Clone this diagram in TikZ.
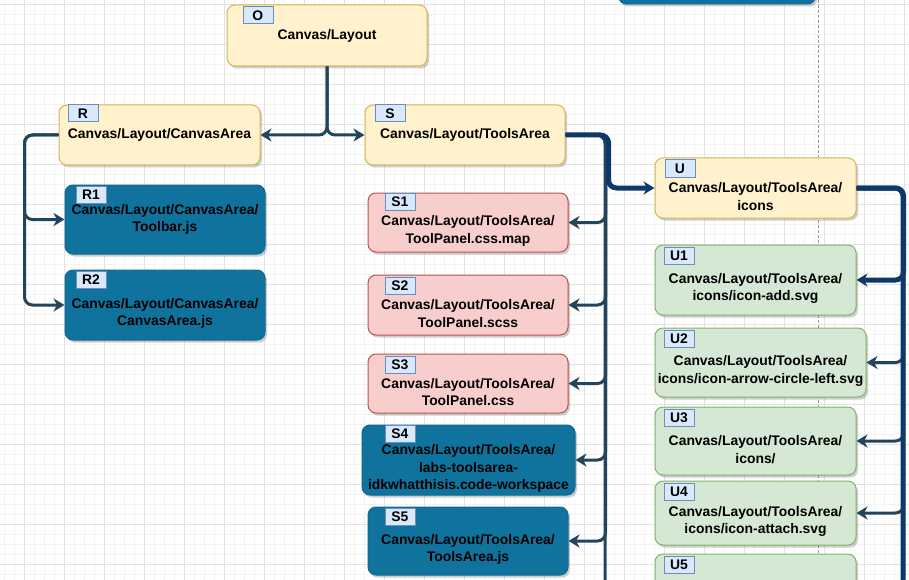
\documentclass[tikz,border=0pt]{standalone}
\usepackage{fontspec}
\setmainfont{Liberation Sans}
\usetikzlibrary{arrows.meta,shadows}

\definecolor{folderfill}{HTML}{FFF2CC}
\definecolor{folderline}{HTML}{D6B656}
\definecolor{filefill}{HTML}{F8CECC}
\definecolor{fileline}{HTML}{B85450}
\definecolor{iconfill}{HTML}{D5E8D4}
\definecolor{iconline}{HTML}{82B366}
\definecolor{codefill}{HTML}{10739E}
\definecolor{codeline}{HTML}{0E6A92}
\definecolor{tagfill}{HTML}{DAE8FC}
\definecolor{tagline}{HTML}{6C8EBF}
\definecolor{linkc}{HTML}{23445D}
\definecolor{trunkc}{HTML}{0F3868}
\definecolor{minorc}{HTML}{F3F3F3}
\definecolor{majorc}{HTML}{E2E2E2}

\begin{document}
\begin{tikzpicture}[
        x=1pt, y=-1pt,
        every node/.style={font=\bfseries\fontsize{13.9}{17.5}\selectfont, text=black},
        box/.style={draw, line width=1pt, rounded corners=8pt, align=center, inner sep=0pt,
            drop shadow={shadow xshift=2pt, shadow yshift=-2.5pt, opacity=.35, fill=black!55}},
        folder/.style={box, fill=folderfill, draw=folderline},
        file/.style={box, fill=filefill, draw=fileline},
        icon/.style={box, fill=iconfill, draw=iconline},
        code/.style={box, fill=codefill, draw=codeline},
        caption/.style={label={[align=center, yshift=-8.5pt]center:#1}},
        tag/.style={draw=tagline, fill=tagfill, line width=0.8pt, anchor=north west,
            minimum width=30pt, minimum height=17pt, inner sep=0pt},
        link/.style={draw=linkc, line width=3pt, rounded corners=8pt,
            -{Stealth[length=11pt, width=13pt, inset=3.5pt]}},
        trunk/.style={link, draw=trunkc, line width=5pt},
        minorgrid/.style={draw=minorc, line width=0.5pt},
        majorgrid/.style={draw=majorc, line width=0.8pt},
        guide/.style={draw=black!40, line width=0.7pt, dash pattern=on 3pt off 2pt},
    ]
    \useasboundingbox (0,0) rectangle (909,580);
    \clip (0,0) rectangle (909,580);
    \fill[white] (0,0) rectangle (909,580);

    % background grid
    \foreach \gx in {4,14,...,904} \draw[minorgrid] (\gx,0) -- (\gx,580);
    \foreach \gy in {4,14,...,574} \draw[minorgrid] (0,\gy) -- (909,\gy);
    \foreach \gx in {24,64,...,904} \draw[majorgrid] (\gx,0) -- (\gx,580);
    \foreach \gy in {4,44,...,564} \draw[majorgrid] (0,\gy) -- (909,\gy);
    \draw[guide] (818,0) -- (818,580);

    % root
    \node[code, minimum width=197, minimum height=40] (prev) at (717,-16) {};
    \node[folder, minimum width=200, minimum height=61] (O) at (327,35.5) {Canvas/Layout};
    \node[tag] (O-tag) at ([xshift=16pt, yshift=-2pt]O.north west) {O};

    % canvas area
    \node[folder, minimum width=201, minimum height=60] (R) at (159.5,135) {Canvas/Layout/CanvasArea};
    \node[tag] (R-tag) at ([xshift=9pt]R.north west) {R};
    \node[code, minimum width=200, minimum height=69] (R1) at (165,219.5) {Canvas/Layout/CanvasArea/\\Toolbar.js};
    \node[tag] (R1-tag) at ([xshift=11pt, yshift=-1pt]R1.north west) {R1};
    \node[code, minimum width=200, minimum height=70, caption={Canvas/Layout/CanvasArea/\\CanvasArea.js}] (R2) at (165,305) {};
    \node[tag] (R2-tag) at ([xshift=11pt, yshift=-1pt]R2.north west) {R2};

    % tools area
    \node[folder, minimum width=200, minimum height=60] (S) at (465,135) {Canvas/Layout/ToolsArea};
    \node[tag] (S-tag) at ([xshift=10pt]S.north west) {S};
    \node[file, minimum width=200, minimum height=59, caption={Canvas/Layout/ToolsArea/\\ToolPanel.css.map}] (S1) at (468,222.5) {};
    \node[tag] (S1-tag) at ([xshift=17pt]S1.north west) {S1};
    \node[file, minimum width=200, minimum height=60, caption={Canvas/Layout/ToolsArea/\\ToolPanel.scss}] (S2) at (468,305) {};
    \node[tag] (S2-tag) at ([xshift=17pt, yshift=-2pt]S2.north west) {S2};
    \node[file, minimum width=200, minimum height=59, caption={Canvas/Layout/ToolsArea/\\ToolPanel.css}] (S3) at (468,383.5) {};
    \node[tag] (S3-tag) at ([xshift=17pt, yshift=-2pt]S3.north west) {S3};
    \node[code, minimum width=213, minimum height=70, caption={Canvas/Layout/ToolsArea/\\labs-toolsarea-\\idkwhatthisis.code-workspace}] (S4) at (468.5,460) {};
    \node[tag] (S4-tag) at ([xshift=23pt]S4.north west) {S4};
    \node[code, minimum width=200, minimum height=68, caption={Canvas/Layout/ToolsArea/\\ToolsArea.js}] (S5) at (468,541) {};
    \node[tag] (S5-tag) at ([xshift=17pt, yshift=-1pt]S5.north west) {S5};

    % icons
    \node[folder, minimum width=201, minimum height=60, caption={Canvas/Layout/ToolsArea/\\icons}] (U) at (755.5,188) {};
    \node[tag] (U-tag) at ([xshift=10pt, yshift=-2pt]U.north west) {U};
    \node[icon, minimum width=201, minimum height=70, caption={Canvas/Layout/ToolsArea/\\icons/icon-add.svg}] (U1) at (755.5,280) {};
    \node[tag] (U1-tag) at ([xshift=9pt, yshift=-2pt]U1.north west) {U1};
    \node[icon, minimum width=211, minimum height=69, caption={Canvas/Layout/ToolsArea/\\icons/icon-arrow-circle-left.svg}] (U2) at (760.5,362.5) {};
    \node[tag] (U2-tag) at ([xshift=9pt, yshift=-2pt]U2.north west) {U2};
    \node[icon, minimum width=201, minimum height=68, caption={Canvas/Layout/ToolsArea/\\icons/}] (U3) at (755.5,441) {};
    \node[tag] (U3-tag) at ([xshift=9pt, yshift=-2pt]U3.north west) {U3};
    \node[icon, minimum width=201, minimum height=64, caption={Canvas/Layout/ToolsArea/\\icons/icon-attach.svg}] (U4) at (755.5,513) {};
    \node[tag] (U4-tag) at ([xshift=9pt, yshift=-2pt]U4.north west) {U4};
    \node[icon, minimum width=201, minimum height=65] (U5) at (755.5,586.5) {};
    \node[tag] (U5-tag) at ([xshift=9pt, yshift=-2pt]U5.north west) {U5};

    % connectors
    \coordinate (S-end) at (605,600);
    \coordinate (U-end) at (903,600);
    \draw[link] (O.south) |- (R.east);
    \draw[link] (O.south) |- (S.west);
    \foreach \c in {R1,R2} \draw[link] (R.west) -- ++(-34,0) |- (\c.west);
    \draw[link, -] (S.east) -| (S-end);
    \foreach \c in {S1,S2,S3,S4,S5} \draw[link] (S.east) -- ++(40,0) |- (\c.east);
    \draw[trunk] (S.east) -- ++(43,0) |- (U.west);
    \foreach \c in {U2,U3,U4,U5} \draw[link] (U.east) -- ++(47,0) |- (\c.east);
    \draw[trunk, -] (U.east) -| (U-end);
    \draw[trunk] (U.east) -- ++(47,0) |- (U1.east);
\end{tikzpicture}
\end{document}
